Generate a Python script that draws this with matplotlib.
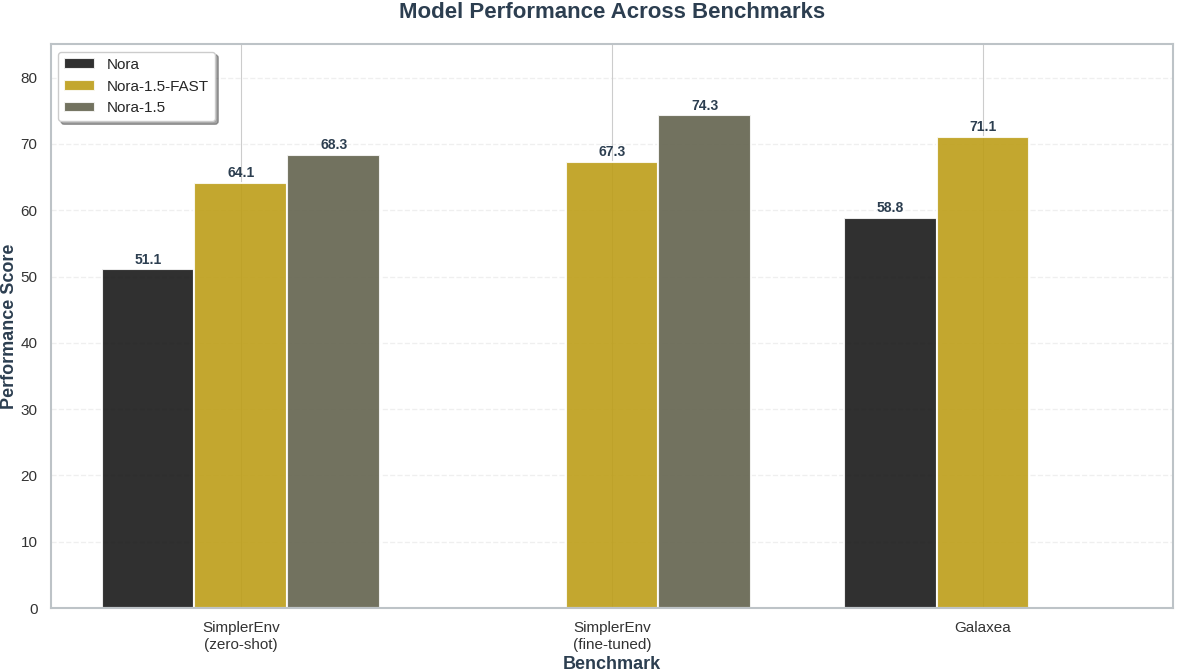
import numpy as np
import matplotlib.pyplot as plt
import seaborn as sns

sns.set_theme(style="whitegrid")
plt.rcParams['font.family'] = ['Liberation Sans', 'DejaVu Sans']

benchmarks = ["SimplerEnv\n(zero-shot)", "SimplerEnv\n(fine-tuned)", "Galaxea"]
models = ["Nora", "Nora-1.5-FAST", "Nora-1.5"]
nora = [51.1, np.nan, 58.8]
nora_fast = [64.1, 67.3, 71.1]
nora_15 = [68.3, 74.3, np.nan]
colors = ["#191919", "#bd9e18", "#63634e"]

fig, ax = plt.subplots(figsize=(11.78, 6.72), dpi=100)
fig.subplots_adjust(left=0.043, right=0.996, top=0.934, bottom=0.095)

x = np.arange(len(benchmarks))
w = 0.25
for i, (name, vals) in enumerate(zip(models, [nora, nora_fast, nora_15])):
    pos = x + (i - 1) * w
    bars = ax.bar(pos, vals, w, label=name, color=colors[i], alpha=0.9,
                  edgecolor="white", linewidth=1.5)
    for p, v in zip(pos, vals):
        if not np.isnan(v):
            ax.text(p, v + 0.4, f"{v:.1f}", ha="center", va="bottom",
                    fontsize=10, fontweight="bold", color="#2c3e50")

ax.set_xlim(-0.5125, 2.5125)
ax.set_ylim(0, 85)
ax.set_xticks(x)
ax.set_xticklabels(benchmarks, fontsize=11, color="#333333")
ax.tick_params(axis="y", labelsize=11, labelcolor="#333333")
ax.set_xlabel("Benchmark", fontsize=13, fontweight="bold", color="#2c3e50", labelpad=3)
ax.set_ylabel("Performance Score", fontsize=13, fontweight="bold", color="#2c3e50",
              labelpad=2)
ax.set_title("Model Performance Across Benchmarks", fontsize=16, fontweight="bold",
             color="#2c3e50", pad=19)

ax.yaxis.grid(True, linestyle="--", alpha=0.3)
ax.xaxis.grid(True, color="#cccccc", linewidth=0.8)
ax.set_axisbelow(True)
for s in ax.spines.values():
    s.set_color("#bdc3c7")
    s.set_linewidth(1.5)

ax.legend(loc="upper left", fontsize=11, frameon=True, shadow=True, fancybox=True)

plt.savefig("out.png")
